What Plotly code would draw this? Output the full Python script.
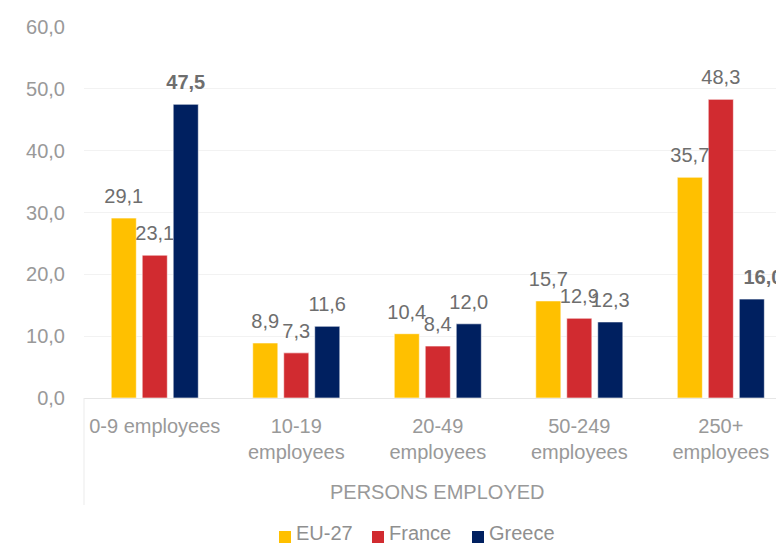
import plotly.graph_objects as go

# Share of enterprises by size class (persons employed)
categories = ["0-9 employees", "10-19<br>employees", "20-49<br>employees",
              "50-249<br>employees", "250+<br>employees"]
series_names = ["EU-27", "France", "Greece"]
eu27 = [29.1, 8.9, 10.4, 15.7, 35.7]
france = [23.1, 7.3, 8.4, 12.9, 48.3]
greece = [47.5, 11.6, 12.0, 12.3, 16.0]
bold_points = {"Greece": [0, 4]}
colors = {"EU-27": "#FFC000", "France": "#D12B30", "Greece": "#002060"}

y_ticks = [0, 10, 20, 30, 40, 50, 60]

FONT = "Liberation Sans, Arial, sans-serif"
GAP = 0.343
W, H = 776, 545
ML, MR, MT, MB = 84, 0, 27, 147
PW, PH = W - ML - MR, H - MT - MB


def px_x(p):
    """pixel x -> paper x"""
    return (p - ML) / PW


def px_y(p):
    """pixel y -> paper y"""
    return (H - MB - p) / PH


fig = go.Figure()

for name, vals in zip(series_names, [eu27, france, greece]):
    fig.add_trace(go.Bar(
        x=categories, y=vals, name=name,
        marker=dict(color=colors[name], line=dict(color="white", width=0.6)),
        hoverinfo="skip", showlegend=False,
    ))

# value labels above each bar
for name, vals in zip(series_names, [eu27, france, greece]):
    bold = bold_points.get(name, [])
    labels = []
    for i, v in enumerate(vals):
        s = f"{v:.1f}".replace(".", ",")
        if i in bold:
            s = f"<b>{s}</b>"
        if name == "Greece" and i == len(vals) - 1:
            s = "&nbsp;" * 4 + s  # nudge the last label to the right
        labels.append(s)
    fig.add_trace(go.Scatter(
        x=categories, y=vals, mode="markers+text", text=labels,
        textposition="top center",
        textfont=dict(family=FONT, size=20, color="#6E6E6E"),
        marker=dict(size=14.4, opacity=0),
        showlegend=False, hoverinfo="skip", cliponaxis=True,
    ))

fig.add_annotation(
    text="PERSONS EMPLOYED", x=2, xref="x", y=px_y(492), yref="paper",
    yanchor="middle", xanchor="center", showarrow=False,
    font=dict(family=FONT, size=20, color="#999999"),
)

fig.add_shape(type="line", xref="paper", yref="paper", x0=0, x1=0,
              y0=0, y1=px_y(505), line=dict(color="#EBEBEB", width=1))

# legend: colour keys with their series names
legend_left = [279, 372, 472]
legend_cy = 537
for name, lx in zip(series_names, legend_left):
    fig.add_shape(type="rect", xref="paper", yref="paper",
                  x0=px_x(lx), x1=px_x(lx + 12),
                  y0=px_y(legend_cy + 6), y1=px_y(legend_cy - 6),
                  fillcolor=colors[name], line=dict(width=0))
    fig.add_annotation(text=name, xref="paper", yref="paper",
                       x=px_x(lx + 16), y=px_y(H),
                       xanchor="left", yanchor="bottom", borderpad=0,
                       showarrow=False,
                       font=dict(family=FONT, size=20, color="#8F8F8F"))

fig.update_layout(
    width=W, height=H,
    margin=dict(l=ML, r=MR, t=MT, b=MB, autoexpand=False),
    paper_bgcolor="white", plot_bgcolor="white",
    barmode="group", bargap=GAP, bargroupgap=0.19,
    scattermode="group", scattergap=GAP,
    separators=",.",
    font=dict(family=FONT, size=20, color="#999999"),
    showlegend=False,
    xaxis=dict(range=[-0.5, 4.39], showgrid=False, showline=True,
               linecolor="#E6E6E6", linewidth=1, ticks="",
               ticklabelstandoff=10,
               tickfont=dict(family=FONT, size=20, color="#999999"),
               fixedrange=True),
    yaxis=dict(range=[0, 60], tickvals=y_ticks, tickformat=".1f",
               showgrid=True, gridcolor="#F2F2F2", gridwidth=1,
               zeroline=False, showline=False, ticks="",
               ticklabelstandoff=18,
               tickfont=dict(family=FONT, size=20, color="#999999"),
               fixedrange=True),
)

fig.write_html("out.html")
